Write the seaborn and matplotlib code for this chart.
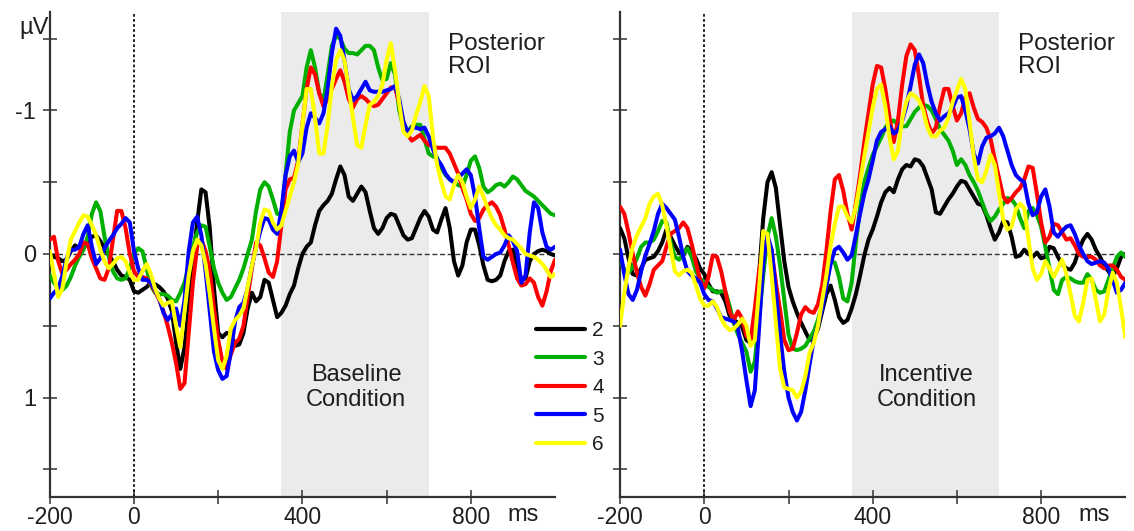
import numpy as np
import pandas as pd
import matplotlib
matplotlib.use("Agg")
import matplotlib.pyplot as plt
from matplotlib.lines import Line2D
import seaborn as sns

# ---------------------------------------------------------------------------
# Grand-average ERP waveforms, posterior ROI (µV), sampled every 10 ms
# ---------------------------------------------------------------------------
time_ms = np.arange(-200, 1001, 10)
levels = ["2", "3", "4", "5", "6"]
level_colors = ["#000000", "#00b000", "#ff0000", "#0000ff", "#ffff00"]

baseline_2 = [
    0.01, 0.02, 0.03, 0.05, 0.04, -0.02, -0.06, -0.04, -0.04, -0.08,
    -0.12, -0.13, -0.09, -0.04, 0.01, 0.05, 0.11, 0.15, 0.16, 0.18,
    0.26, 0.27, 0.25, 0.23, 0.20, 0.21, 0.23, 0.26, 0.31, 0.40,
    0.62, 0.80, 0.65, 0.37, 0.05, -0.22, -0.45, -0.43, -0.18, 0.24,
    0.55, 0.58, 0.55, 0.56, 0.64, 0.63, 0.55, 0.38, 0.27, 0.33,
    0.30, 0.18, 0.20, 0.32, 0.44, 0.41, 0.36, 0.28, 0.22, 0.10,
    0.00, -0.05, -0.08, -0.20, -0.30, -0.34, -0.37, -0.42, -0.52, -0.61,
    -0.55, -0.40, -0.37, -0.42, -0.47, -0.43, -0.30, -0.18, -0.14, -0.18,
    -0.25, -0.28, -0.27, -0.20, -0.13, -0.10, -0.11, -0.18, -0.25, -0.30,
    -0.26, -0.17, -0.15, -0.24, -0.32, -0.18, 0.05, 0.15, 0.08, -0.08,
    -0.17, -0.17, -0.06, 0.08, 0.18, 0.19, 0.18, 0.15, 0.05, -0.02,
    -0.03, 0.08, 0.18, 0.17, 0.05, 0.00, -0.02, -0.03, -0.02, 0.00,
    0.01,
]
baseline_3 = [
    0.15, 0.20, 0.24, 0.25, 0.22, 0.16, 0.08, 0.02, -0.03, -0.12,
    -0.28, -0.36, -0.30, -0.12, 0.02, 0.12, 0.17, 0.18, 0.17, 0.10,
    0.00, -0.04, -0.02, 0.10, 0.22, 0.27, 0.28, 0.28, 0.29, 0.32,
    0.33, 0.27, 0.20, 0.08, -0.05, -0.15, -0.20, -0.19, -0.05, 0.10,
    0.20, 0.27, 0.32, 0.30, 0.24, 0.18, 0.10, 0.00, -0.10, -0.30,
    -0.45, -0.50, -0.47, -0.38, -0.28, -0.28, -0.55, -0.85, -1.00, -1.05,
    -1.10, -1.30, -1.42, -1.30, -1.12, -1.07, -1.25, -1.45, -1.52, -1.50,
    -1.43, -1.40, -1.40, -1.39, -1.42, -1.45, -1.45, -1.42, -1.30, -1.21,
    -1.22, -1.33, -1.25, -1.00, -0.88, -0.85, -0.89, -0.90, -0.90, -0.80,
    -0.70, -0.68, -0.67, -0.60, -0.55, -0.52, -0.50, -0.48, -0.47, -0.55,
    -0.65, -0.68, -0.60, -0.47, -0.43, -0.45, -0.48, -0.49, -0.47, -0.50,
    -0.54, -0.52, -0.48, -0.44, -0.42, -0.40, -0.37, -0.34, -0.31, -0.28,
    -0.27,
]
baseline_4 = [
    -0.10, -0.12, 0.05, 0.14, 0.11, 0.07, 0.04, 0.00, -0.08, -0.07,
    0.03, 0.10, 0.17, 0.18, 0.10, -0.10, -0.30, -0.30, -0.18, 0.00,
    0.12, 0.16, 0.16, 0.17, 0.21, 0.26, 0.32, 0.40, 0.50, 0.62,
    0.76, 0.94, 0.90, 0.55, 0.20, -0.05, -0.10, -0.02, 0.12, 0.38,
    0.60, 0.75, 0.80, 0.70, 0.62, 0.59, 0.50, 0.30, 0.10, -0.08,
    -0.06, 0.03, 0.13, 0.16, 0.05, -0.20, -0.45, -0.52, -0.53, -0.65,
    -0.90, -1.15, -1.30, -1.25, -1.12, -1.03, -1.08, -1.15, -1.22, -1.28,
    -1.20, -1.08, -1.02, -1.08, -1.10, -1.08, -1.05, -1.03, -1.04, -1.08,
    -1.12, -1.16, -1.16, -1.05, -0.92, -0.83, -0.79, -0.81, -0.83, -0.79,
    -0.76, -0.75, -0.74, -0.74, -0.74, -0.70, -0.63, -0.56, -0.46, -0.38,
    -0.28, -0.23, -0.25, -0.31, -0.34, -0.36, -0.33, -0.27, -0.17, -0.06,
    0.06, 0.17, 0.22, 0.21, 0.17, 0.20, 0.30, 0.36, 0.26, 0.12,
    0.04,
]
baseline_5 = [
    0.31, 0.27, 0.24, 0.15, 0.03, -0.03, -0.03, -0.05, -0.14, -0.20,
    -0.05, 0.07, 0.03, -0.04, -0.09, -0.13, -0.18, -0.21, -0.25, -0.22,
    -0.02, 0.10, 0.18, 0.18, 0.20, 0.25, 0.31, 0.41, 0.46, 0.42,
    0.38, 0.50, 0.32, -0.02, -0.22, -0.26, -0.13, 0.12, 0.40, 0.68,
    0.81, 0.87, 0.85, 0.68, 0.47, 0.37, 0.34, 0.24, 0.08, -0.04,
    -0.16, -0.25, -0.24, -0.17, -0.14, -0.30, -0.55, -0.68, -0.72, -0.64,
    -0.70, -0.88, -0.98, -0.95, -0.91, -0.98, -1.15, -1.40, -1.57, -1.52,
    -1.35, -1.15, -1.07, -1.10, -1.15, -1.20, -1.14, -1.13, -1.13, -1.13,
    -1.14, -1.15, -1.17, -1.08, -0.92, -0.85, -0.88, -0.88, -0.87, -0.88,
    -0.82, -0.73, -0.66, -0.62, -0.56, -0.52, -0.50, -0.53, -0.56, -0.59,
    -0.55, -0.40, -0.18, 0.02, 0.04, 0.02, 0.00, -0.01, -0.06, -0.13,
    -0.09, -0.02, 0.20, 0.15, -0.15, -0.36, -0.32, -0.15, -0.05, -0.03,
    -0.05,
]
baseline_6 = [
    -0.02, 0.14, 0.30, 0.24, 0.05, -0.10, -0.16, -0.22, -0.27, -0.26,
    -0.20, -0.13, -0.03, 0.05, 0.10, 0.07, 0.03, 0.02, 0.05, 0.13,
    0.18, 0.18, 0.12, 0.07, 0.14, 0.24, 0.31, 0.36, 0.34, 0.33,
    0.50, 0.65, 0.40, 0.15, -0.02, -0.10, -0.06, 0.07, 0.28, 0.52,
    0.74, 0.80, 0.71, 0.52, 0.46, 0.43, 0.38, 0.23, 0.08, -0.04,
    -0.22, -0.31, -0.30, -0.22, -0.17, -0.20, -0.30, -0.40, -0.50, -0.63,
    -0.90, -1.15, -1.15, -0.95, -0.70, -0.70, -0.90, -1.17, -1.35, -1.42,
    -1.35, -1.15, -0.95, -0.76, -0.74, -0.90, -1.04, -1.06, -1.10, -1.18,
    -1.35, -1.47, -1.28, -1.05, -0.85, -0.82, -0.86, -0.97, -1.06, -1.17,
    -1.10, -0.82, -0.62, -0.50, -0.40, -0.38, -0.48, -0.55, -0.50, -0.40,
    -0.32, -0.38, -0.47, -0.40, -0.32, -0.25, -0.20, -0.17, -0.13, -0.11,
    -0.10, -0.07, -0.04, 0.00, 0.01, 0.02, 0.04, 0.07, 0.11, 0.16,
    0.14,
]

incentive_2 = [
    -0.18, -0.11, 0.03, 0.14, 0.15, 0.10, 0.04, 0.03, 0.02, -0.02,
    -0.08, -0.17, -0.12, -0.06, -0.01, 0.01, -0.05, -0.02, 0.03, 0.10,
    0.14, 0.21, 0.26, 0.26, 0.27, 0.33, 0.43, 0.46, 0.48, 0.51,
    0.60, 0.62, 0.48, 0.15, -0.25, -0.50, -0.57, -0.46, -0.20, 0.05,
    0.23, 0.33, 0.41, 0.48, 0.54, 0.60, 0.59, 0.52, 0.40, 0.28,
    0.22, 0.32, 0.44, 0.48, 0.46, 0.38, 0.28, 0.15, 0.01, -0.10,
    -0.17, -0.26, -0.36, -0.43, -0.46, -0.43, -0.52, -0.59, -0.62, -0.61,
    -0.66, -0.65, -0.61, -0.53, -0.45, -0.29, -0.28, -0.33, -0.38, -0.42,
    -0.47, -0.51, -0.50, -0.45, -0.40, -0.35, -0.34, -0.27, -0.18, -0.10,
    -0.15, -0.23, -0.22, -0.12, 0.02, 0.01, -0.03, 0.00, 0.02, -0.01,
    0.03, 0.02, -0.05, -0.04, 0.02, 0.07, 0.10, 0.11, 0.06, -0.03,
    -0.10, -0.14, -0.10, -0.03, 0.02, 0.08, 0.12, 0.16, 0.10, 0.02,
    0.00,
]
incentive_3 = [
    0.04, 0.11, 0.13, 0.09, 0.03, -0.05, -0.08, -0.08, -0.10, -0.16,
    -0.23, -0.22, -0.08, 0.02, 0.04, 0.00, -0.04, 0.02, 0.12, 0.17,
    0.20, 0.23, 0.25, 0.27, 0.26, 0.26, 0.36, 0.48, 0.56, 0.62,
    0.68, 0.82, 0.75, 0.45, 0.15, -0.12, -0.25, -0.12, 0.08, 0.32,
    0.56, 0.66, 0.67, 0.66, 0.64, 0.59, 0.54, 0.46, 0.35, 0.22,
    0.05, 0.06, 0.16, 0.31, 0.33, 0.20, -0.08, -0.32, -0.50, -0.60,
    -0.69, -0.75, -0.81, -0.88, -0.92, -0.93, -0.90, -0.89, -0.89, -0.94,
    -0.99, -1.02, -1.04, -1.03, -1.00, -0.94, -0.87, -0.83, -0.79, -0.72,
    -0.62, -0.66, -0.62, -0.55, -0.50, -0.44, -0.36, -0.28, -0.23, -0.26,
    -0.31, -0.35, -0.39, -0.38, -0.34, -0.25, -0.18, -0.30, -0.32, -0.27,
    -0.19, -0.05, 0.10, 0.25, 0.28, 0.18, 0.16, 0.17, 0.19, 0.20,
    0.20, 0.14, 0.18, 0.25, 0.27, 0.26, 0.18, 0.10, 0.02, -0.01,
    0.02,
]
incentive_4 = [
    -0.33, -0.28, -0.15, 0.00, 0.13, 0.23, 0.29, 0.21, 0.11, 0.08,
    0.05, -0.05, -0.14, -0.16, -0.18, -0.22, -0.18, -0.07, 0.06, 0.18,
    0.24, 0.16, 0.01, 0.02, 0.12, 0.26, 0.40, 0.46, 0.40, 0.45,
    0.57, 0.60, 0.38, 0.12, -0.05, -0.11, -0.02, 0.20, 0.39, 0.60,
    0.67, 0.66, 0.55, 0.42, 0.37, 0.40, 0.41, 0.35, 0.22, -0.02,
    -0.30, -0.52, -0.55, -0.44, -0.28, -0.17, -0.35, -0.55, -0.78, -0.98,
    -1.18, -1.31, -1.30, -1.15, -0.95, -0.78, -0.93, -1.18, -1.38, -1.46,
    -1.42, -1.24, -1.03, -0.92, -0.84, -0.88, -1.03, -1.15, -1.15, -1.03,
    -0.93, -0.98, -1.09, -1.12, -1.02, -0.94, -0.92, -0.88, -0.80, -0.66,
    -0.53, -0.40, -0.36, -0.39, -0.43, -0.46, -0.52, -0.61, -0.60, -0.42,
    -0.22, -0.08, -0.12, -0.21, -0.20, -0.15, -0.10, -0.11, -0.06, 0.00,
    0.02, 0.02, 0.02, 0.04, 0.08, 0.10, 0.08, 0.08, 0.11, 0.16,
    0.18,
]
incentive_5 = [
    -0.03, 0.14, 0.28, 0.32, 0.25, 0.12, 0.01, -0.07, -0.16, -0.28,
    -0.35, -0.32, -0.28, -0.24, -0.12, 0.02, 0.12, 0.15, 0.17, 0.20,
    0.28, 0.32, 0.33, 0.38, 0.44, 0.45, 0.46, 0.47, 0.52, 0.68,
    0.88, 1.06, 0.95, 0.52, 0.06, -0.13, -0.03, 0.26, 0.56, 0.82,
    1.00, 1.10, 1.16, 1.10, 0.95, 0.77, 0.60, 0.50, 0.38, 0.22,
    0.07, -0.03, -0.05, -0.01, 0.04, 0.01, -0.13, -0.28, -0.42, -0.52,
    -0.65, -0.79, -0.85, -0.87, -0.89, -0.84, -0.86, -0.93, -1.03, -1.17,
    -1.32, -1.39, -1.33, -1.18, -1.06, -0.98, -0.93, -0.96, -0.98, -1.02,
    -1.09, -1.10, -1.00, -0.87, -0.70, -0.63, -0.75, -0.81, -0.82, -0.84,
    -0.88, -0.82, -0.72, -0.62, -0.55, -0.52, -0.50, -0.35, -0.27, -0.29,
    -0.40, -0.45, -0.33, -0.15, -0.12, -0.16, -0.19, -0.20, -0.14, -0.06,
    0.00, 0.05, 0.07, 0.06, 0.05, 0.06, 0.10, 0.18, 0.27, 0.25,
    0.20,
]
incentive_6 = [
    0.50, 0.27, 0.09, -0.05, -0.13, -0.19, -0.25, -0.35, -0.40, -0.42,
    -0.34, -0.20, -0.04, 0.12, 0.15, 0.12, 0.11, 0.13, 0.22, 0.31,
    0.36, 0.36, 0.33, 0.37, 0.45, 0.50, 0.53, 0.52, 0.49, 0.45,
    0.50, 0.64, 0.60, 0.25, -0.16, -0.14, 0.15, 0.48, 0.80, 0.93,
    0.94, 0.95, 1.00, 0.96, 0.85, 0.69, 0.62, 0.50, 0.32, 0.15,
    -0.06, -0.21, -0.33, -0.33, -0.26, -0.22, -0.33, -0.50, -0.68, -0.85,
    -1.02, -1.15, -1.18, -1.03, -0.81, -0.66, -0.72, -0.94, -1.06, -1.12,
    -1.10, -1.07, -1.00, -0.88, -0.82, -0.82, -0.86, -0.88, -0.95, -1.06,
    -1.14, -1.22, -1.15, -0.92, -0.68, -0.52, -0.50, -0.58, -0.69, -0.62,
    -0.43, -0.24, -0.17, -0.19, -0.31, -0.35, -0.32, -0.10, 0.10, 0.18,
    0.14, 0.05, 0.10, 0.16, 0.10, 0.04, 0.14, 0.28, 0.43, 0.47,
    0.34, 0.18, 0.17, 0.32, 0.47, 0.42, 0.25, 0.13, 0.20, 0.38,
    0.58,
]

x_ticks = [-200, 0, 200, 400, 600, 800]
x_tick_labels = ["-200", "0", "", "400", "", "800"]
y_ticks = [-1.5, -1.0, -0.5, 0.0, 0.5, 1.0, 1.5]
y_tick_labels = ["", "-1", "", "0", "", "1", ""]
window_ms = (350, 700)

panels = [
    ("Baseline\nCondition", [baseline_2, baseline_3, baseline_4, baseline_5, baseline_6]),
    ("Incentive\nCondition", [incentive_2, incentive_3, incentive_4, incentive_5, incentive_6]),
]


def long_frame(series):
    parts = [pd.DataFrame({"time": time_ms, "amp": vals, "load": lv})
             for lv, vals in zip(levels, series)]
    return pd.concat(parts, ignore_index=True)


sns.set_style("white")
plt.rcParams["font.family"] = ["Liberation Sans", "DejaVu Sans"]
plt.rcParams["axes.unicode_minus"] = False
plt.rcParams["lines.solid_joinstyle"] = "round"
plt.rcParams["lines.solid_capstyle"] = "round"

W, H = 1134, 531
fig = plt.figure(figsize=(W / 100, H / 100), dpi=100)

ink = "#1e1e1e"
axis_col = "#333333"
palette = dict(zip(levels, level_colors))

# axes rectangles in pixels: (left, top, right, bottom)
boxes = [(49.8, 12, 555.0, 497), (620.1, 12, 1125.3, 497)]
axes = []
for i, ((x0, y0, x1, y1), (cond, series)) in enumerate(zip(boxes, panels)):
    ax = fig.add_axes([x0 / W, 1 - y1 / H, (x1 - x0) / W, (y1 - y0) / H])
    axes.append(ax)
    ax.axvspan(*window_ms, color="#ebebeb", lw=0, zorder=0)
    ax.axhline(0, color=axis_col, lw=1.0, ls=(0, (3.5, 2.0)), zorder=1)
    ax.axvline(0, color="#111111", lw=1.3, ls=(0, (1.5, 1.3)), zorder=1)
    sns.lineplot(data=long_frame(series), x="time", y="amp", hue="load",
                 hue_order=levels, palette=palette, estimator=None,
                 linewidth=2.9, legend=False, ax=ax, zorder=3)
    ax.set_xlim(-200, 1000)
    ax.set_ylim(1.693, -1.686)
    ax.set_xlabel("")
    ax.set_ylabel("")
    ax.set_xticks(x_ticks, x_tick_labels)
    ax.set_yticks(y_ticks, y_tick_labels if i == 0 else [""] * len(y_ticks))
    for side in ("top", "right"):
        ax.spines[side].set_visible(False)
    for side in ("left", "bottom"):
        ax.spines[side].set_color(axis_col)
        ax.spines[side].set_linewidth(1.6)
    ax.tick_params(bottom=True, left=True, direction="inout", length=9.5,
                   width=1.1, color=axis_col, labelsize=17, labelcolor=ink)
    ax.tick_params(axis="x", pad=2, labelsize=16.5)
    ax.tick_params(axis="y", pad=5)
    ax.set_facecolor("none")
    # condition label and region name
    ax.text(0.5 * (window_ms[0] + window_ms[1]) + 3, 0.93, cond, ha="center",
            va="center", fontsize=17, color=ink, linespacing=1.2)
    ax.text(745, -1.38, "Posterior\nROI", ha="left", va="center",
            fontsize=17.5, color=ink, linespacing=1.05)

# unit labels
fig.text(34 / W, 1 - 34 / H, "µV", ha="center", va="baseline", fontsize=17, color=ink)
for x_px in (507, 1078):
    fig.text(x_px / W, 1 - 521 / H, "ms", ha="left", va="baseline", fontsize=17, color=ink)

handles = [Line2D([], [], color=c, lw=3.0) for c in level_colors]
fig.legend(handles, levels, loc="upper left", bbox_to_anchor=(536 / W, 1 - 321 / H),
           frameon=False, borderpad=0, borderaxespad=0, handlelength=2.35,
           handletextpad=0.35, labelspacing=0.46, fontsize=15, labelcolor=ink)

fig.savefig("out.png", dpi=100)
